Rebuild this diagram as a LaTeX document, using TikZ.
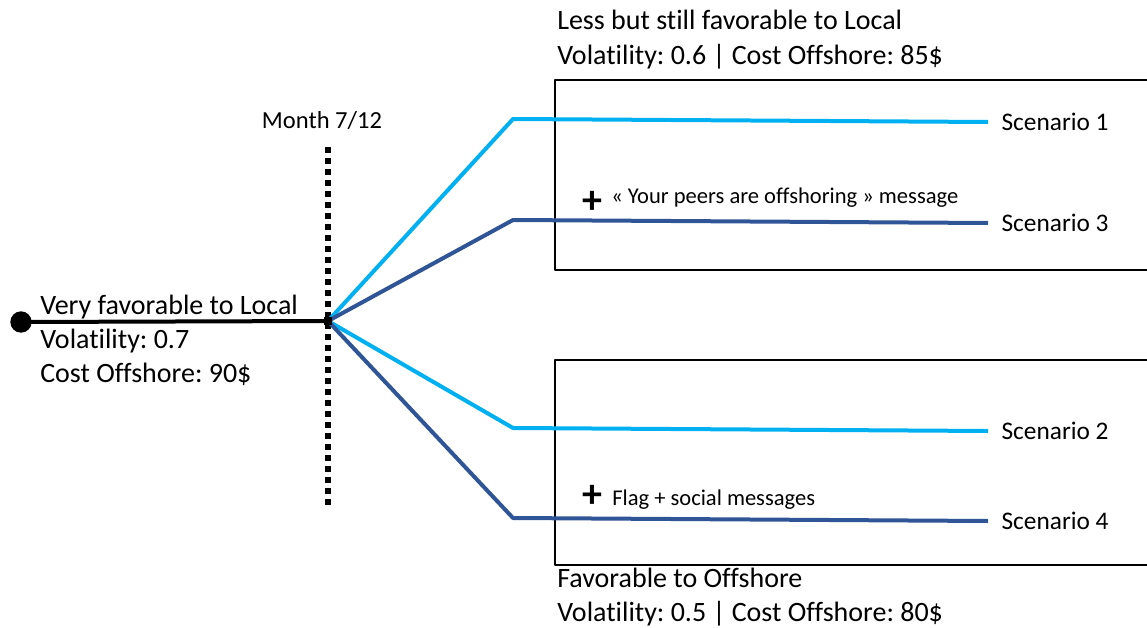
\documentclass[tikz,border=0pt]{standalone}
\usepackage{fontspec}
\setmainfont{Carlito}[Ligatures=NoCommon]
\frenchspacing
\definecolor{lightbranch}{HTML}{00B0F0}
\definecolor{darkbranch}{HTML}{2F5597}

\begin{document}
\begin{tikzpicture}[x=0.75pt, y=-0.75pt, line join=round,
    info/.style={anchor=base west, align=left, inner sep=0pt, font=\fontsize{21}{25.5}\selectfont},
    scen/.style={anchor=west, inner xsep=10pt, inner ysep=0pt, font=\fontsize{19}{22}\selectfont},
    msg/.style={anchor=base west, inner sep=0pt, font=\fontsize{16.9}{20}\selectfont},
    plus/.style={inner sep=0pt, font=\fontsize{30}{30}\bfseries\selectfont},
    light/.style={lightbranch, line width=3pt},
    dark/.style={darkbranch, line width=3pt},
    frame/.style={line width=1.2pt}]
    \useasboundingbox (0,0) rectangle (1147,628);

    % Boxes around the two groups
    \draw[frame] (1147,80) -| (555,270) -- (1147,270);
    \draw[frame] (1147,360) -| (555,565) -- (1147,565);

    % Time marker
    \coordinate (top) at (328,147);
    \coordinate (bottom) at (328,507);
    \draw[line width=4.5pt, dash pattern=on 4.5pt off 3.75pt] (top) -- (bottom);
    \node[anchor=base, font=\fontsize{18.4}{22}\selectfont] (month) at (322,128) {Month 7/12};

    % Start and split points
    \node[circle, fill, minimum size=16pt, inner sep=0pt] (start) at (21,322) {};
    \node[rectangle, fill, minimum size=6pt, inner sep=0pt] (split) at (328,321) {};

    % Bends and scenarios
    \coordinate (b1) at (513,119);
    \coordinate (b3) at (513,220);
    \coordinate (b2) at (513,428);
    \coordinate (b4) at (513,518);
    \node[scen] (s1) at (988,122) {Scenario 1};
    \node[scen] (s3) at (988,223) {Scenario 3};
    \node[scen] (s2) at (988,431) {Scenario 2};
    \node[scen] (s4) at (988,521) {Scenario 4};

    % Branches
    \draw[light] (split.center) -- (b1) -- (s1.west);
    \draw[dark] (split.center) -- (b3) -- (s3.west);
    \draw[light] (split.center) -- (b2) -- (s2.west);
    \draw[dark] (split.center) -- (b4) -- (s4.west);
    \draw[line width=3pt] (start.center) -- (split.center);
    \node[rectangle, fill, minimum size=6pt, inner sep=0pt] at (split) {};

    % Labels (base is the last line)
    \node[info] (now) at (40,382) {Very favorable to Local\\Volatility: 0.7\\Cost Offshore: 90\$};
    \node[info] (upper) at (557,64) {Less but still favorable to Local\\Volatility: 0.6 | Cost Offshore: 85\$};
    \node[info] (lower) at (557,621) {Favorable to Offshore\\Volatility: 0.5 | Cost Offshore: 80\$};

    % Messages
    \node[plus] (p3) at (592,202) {+};
    \node[msg] (m3) at (611,203) {« Your peers are offshoring » message};
    \node[plus] (p4) at (592,496) {+};
    \node[msg] (m4) at (612,505) {Flag + social messages};

\end{tikzpicture}
\end{document}
